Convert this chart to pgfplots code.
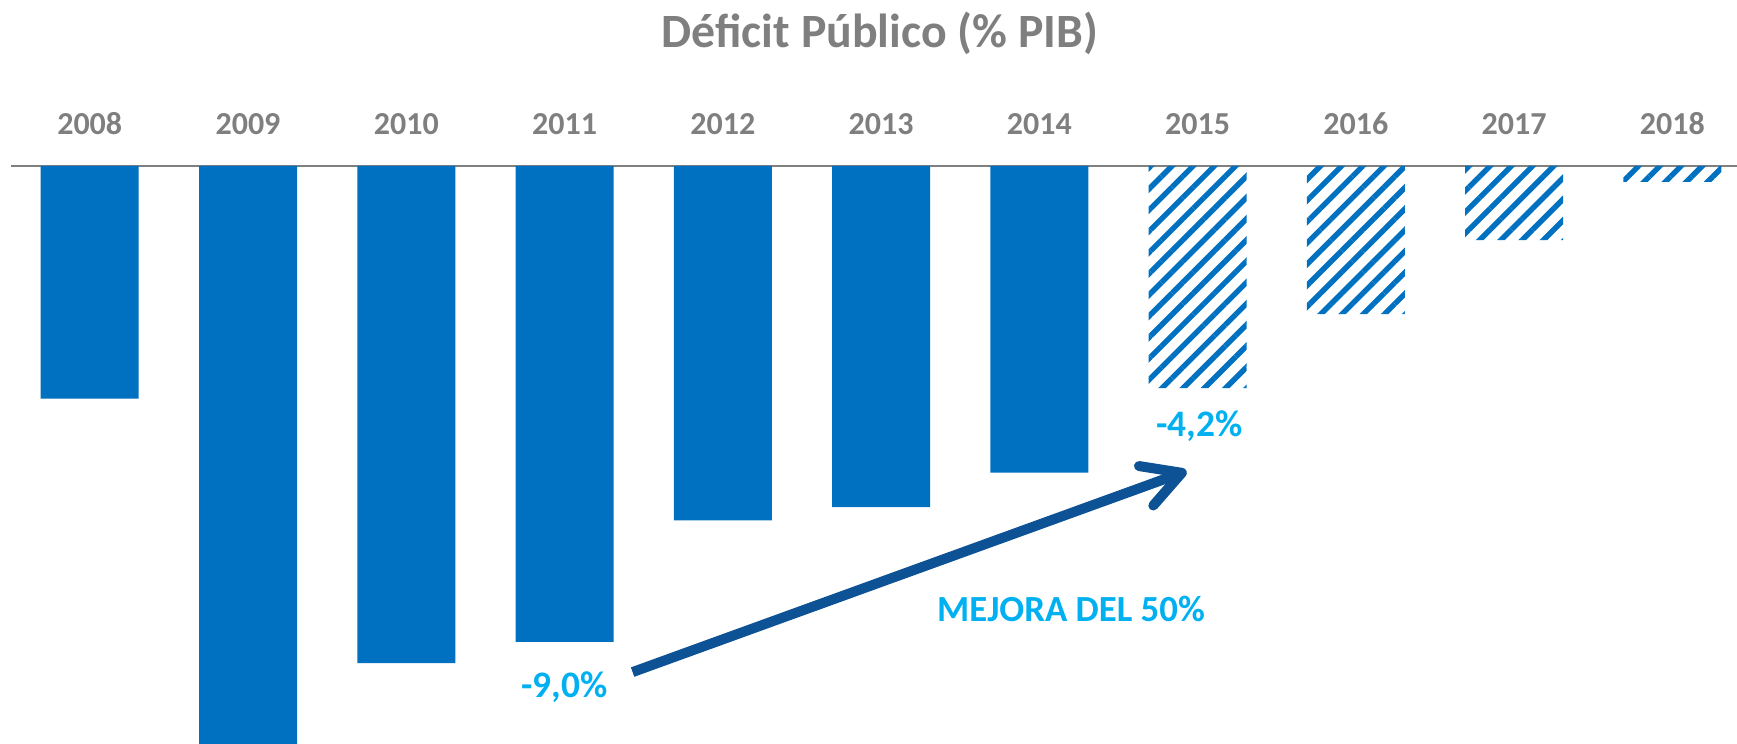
\documentclass[border=0pt]{standalone}
\usepackage{fontspec}
\setmainfont{Carlito}
\usepackage{pgfplots}
\pgfplotsset{compat=1.18}
\usetikzlibrary{patterns.meta,arrows.meta}
\definecolor{barblue}{RGB}{0,112,192}
\definecolor{lblue}{RGB}{0,176,240}
\definecolor{arrowblue}{RGB}{12,82,148}
\definecolor{tgray}{RGB}{127,127,127}
\definecolor{lgray}{RGB}{128,128,128}
\begin{document}
\begin{tikzpicture}
\path[use as bounding box] (-5.3pt,0pt) rectangle (863.2pt,372pt);
\begin{axis}[
  at={(0,0)}, anchor=south west,
  scale only axis, width=863.2pt, height=289pt,
  xmin=-0.5, xmax=10.408, ymin=-10.93, ymax=0,
  clip=false,
  axis x line*=top, axis y line=none,
  x axis line style={lgray, line width=1.1pt},
  xtick={0,...,10},
  xticklabels={2008,2009,2010,2011,2012,2013,2014,2015,2016,2017,2018},
  major tick length=0pt,
  ytick=\empty,
  xticklabel style={font=\bfseries\fontsize{16}{16}\selectfont, text=tgray, anchor=base, yshift=15.8pt},
]
\addplot[ybar, bar width=49pt, bar shift=0pt, fill=barblue, draw=none]
  coordinates {(0,-4.4) (1,-11.0) (2,-9.4) (3,-9.0) (4,-6.7) (5,-6.45) (6,-5.8)};
\addplot[ybar, bar width=49pt, bar shift=0pt, draw=none,
  pattern={Lines[angle=45,distance=7.5pt,line width=2.7pt]}, pattern color=barblue]
  coordinates {(7,-4.2) (8,-2.8) (9,-1.4) (10,-0.3)};
\node[anchor=base, font=\bfseries\fontsize{23.9}{23.9}\selectfont, text=tgray]
  at ([xshift=3pt,yshift=59.2pt]rel axis cs:0.5,1) {Déficit Público (\% PIB)};
\draw[arrowblue, line width=5pt, -{Straight Barb[length=19pt,width=21pt,round]}]
  (axis cs:3.43,-9.57) -- (axis cs:6.93,-5.77);
\node[anchor=base, font=\bfseries\fontsize{18.7}{18.7}\selectfont, text=lblue]
  at (axis cs:3.0,-10.06) {-9,0\%};
\node[anchor=base, font=\bfseries\fontsize{18.7}{18.7}\selectfont, text=lblue]
  at (axis cs:7.01,-5.11) {-4,2\%};
\node[anchor=base, font=\bfseries\fontsize{18.4}{18.4}\selectfont, text=lblue]
  at (axis cs:6.20,-8.61) {MEJORA DEL 50\%};
\end{axis}
\end{tikzpicture}
\end{document}
